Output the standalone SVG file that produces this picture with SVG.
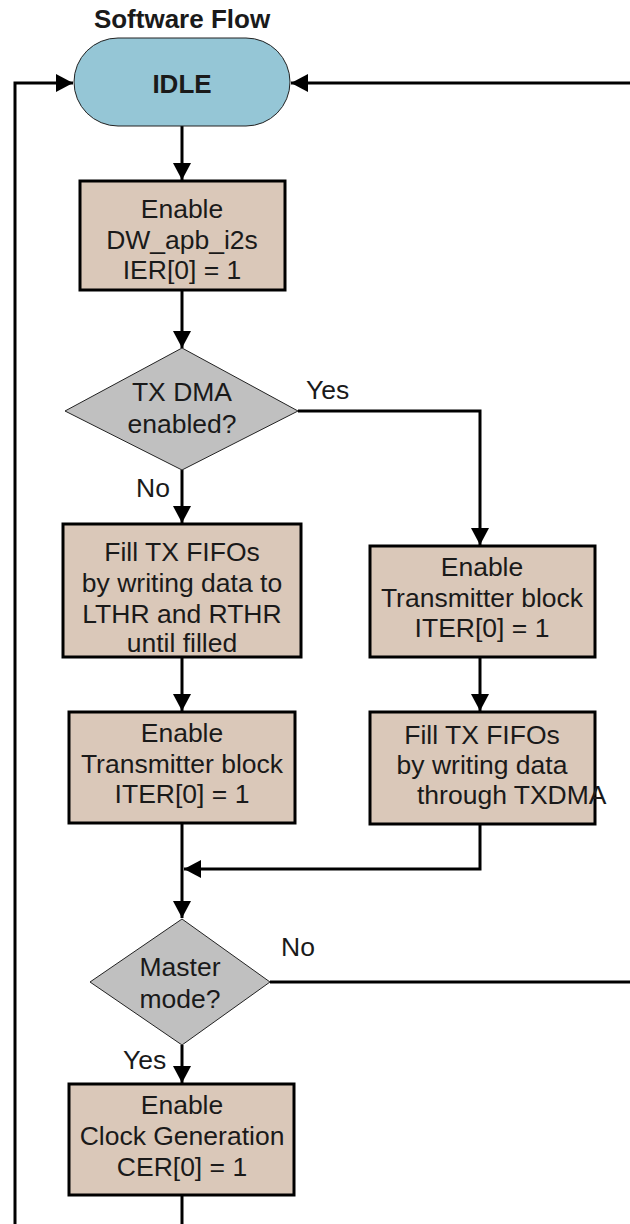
<svg xmlns="http://www.w3.org/2000/svg" width="630" height="1224" viewBox="0 0 630 1224">
<defs>
<style>
.t{font-family:"Liberation Sans",Arial,Helvetica,sans-serif;font-size:26.5px;fill:#1a1a1a;text-anchor:middle}
.b{font-weight:bold;font-size:26px}
.l{text-anchor:start}
.box{fill:#dac8b9;stroke:#000;stroke-width:3}
.dia{fill:#c0c0c0;stroke:#222;stroke-width:1}
.c{fill:none;stroke:#000;stroke-width:3}
</style>
<marker id="ah" markerUnits="userSpaceOnUse" markerWidth="18" markerHeight="20" refX="17" refY="9" orient="auto" viewBox="0 0 18 18">
<path d="M0,0 L17,9 L0,18 z" fill="#000"/>
</marker>
</defs>
<text class="t b" x="182" y="28">Software Flow</text>
<g id="connectors">
<path class="c" d="M15,1224 L15,83 L73,83" marker-end="url(#ah)"/>
<path class="c" d="M630,83 L291,83" marker-end="url(#ah)"/>
<path class="c" d="M182,126 L182,180" marker-end="url(#ah)"/>
<path class="c" d="M182,290 L182,348" marker-end="url(#ah)"/>
<path class="c" d="M182,470 L182,523" marker-end="url(#ah)"/>
<path class="c" d="M298,411 L480,411 L480,545" marker-end="url(#ah)"/>
<path class="c" d="M182,657 L182,711" marker-end="url(#ah)"/>
<path class="c" d="M480,657 L480,711" marker-end="url(#ah)"/>
<path class="c" d="M182,823 L182,918" marker-end="url(#ah)"/>
<path class="c" d="M480,824 L480,869 L184,869" marker-end="url(#ah)"/>
<path class="c" d="M182,1045 L182,1083" marker-end="url(#ah)"/>
<path class="c" d="M270,982 L630,982"/>
<path class="c" d="M182,1195 L182,1224"/>
<text class="t l" x="306" y="399">Yes</text>
<text class="t l" x="136" y="497">No</text>
<text class="t l" x="281" y="956">No</text>
<text class="t l" x="123" y="1069">Yes</text>
</g>
<g id="idle">
<rect x="74" y="38" width="216" height="88" rx="44" ry="44" fill="#95c6d6" stroke="#222" stroke-width="1"/>
<text class="t b" x="182" y="93">IDLE</text>
</g>
<g id="enable-i2s">
<rect class="box" x="80" y="181" width="205" height="109"/>
<text class="t" x="182" y="218">Enable</text>
<text class="t" x="182" y="249">DW_apb_i2s</text>
<text class="t" x="182" y="279">IER[0] = 1</text>
</g>
<g id="tx-dma">
<polygon class="dia" points="182,348 298,411 182,470 65,411"/>
<text class="t" x="182" y="401">TX DMA</text>
<text class="t" x="182" y="433">enabled?</text>
</g>
<g id="fill-fifo-cpu">
<rect class="box" x="63" y="524" width="238" height="133"/>
<text class="t" x="182" y="561">Fill TX FIFOs</text>
<text class="t" x="182" y="592">by writing data to</text>
<text class="t" x="182" y="623">LTHR and RTHR</text>
<text class="t" x="182" y="652">until filled</text>
</g>
<g id="enable-tx-dma">
<rect class="box" x="370" y="546" width="225" height="111"/>
<text class="t" x="482" y="576">Enable</text>
<text class="t" x="482" y="607">Transmitter block</text>
<text class="t" x="482" y="637">ITER[0] = 1</text>
</g>
<g id="fill-fifo-dma">
<rect class="box" x="370" y="712" width="225" height="112"/>
<text class="t" x="482" y="744">Fill TX FIFOs</text>
<text class="t" x="482" y="774">by writing data</text>
<text class="t l" x="417" y="804">through TXDMA</text>
</g>
<g id="enable-tx-cpu">
<rect class="box" x="69" y="712" width="226" height="111"/>
<text class="t" x="182" y="742">Enable</text>
<text class="t" x="182" y="773">Transmitter block</text>
<text class="t" x="182" y="803">ITER[0] = 1</text>
</g>
<g id="master-mode">
<polygon class="dia" points="182,919 270,982 182,1045 90,982"/>
<text class="t" x="180" y="976">Master</text>
<text class="t" x="180" y="1008">mode?</text>
</g>
<g id="enable-clock">
<rect class="box" x="69" y="1084" width="225" height="111"/>
<text class="t" x="182" y="1114">Enable</text>
<text class="t" x="182" y="1145">Clock Generation</text>
<text class="t" x="182" y="1176">CER[0] = 1</text>
</g>
</svg>
